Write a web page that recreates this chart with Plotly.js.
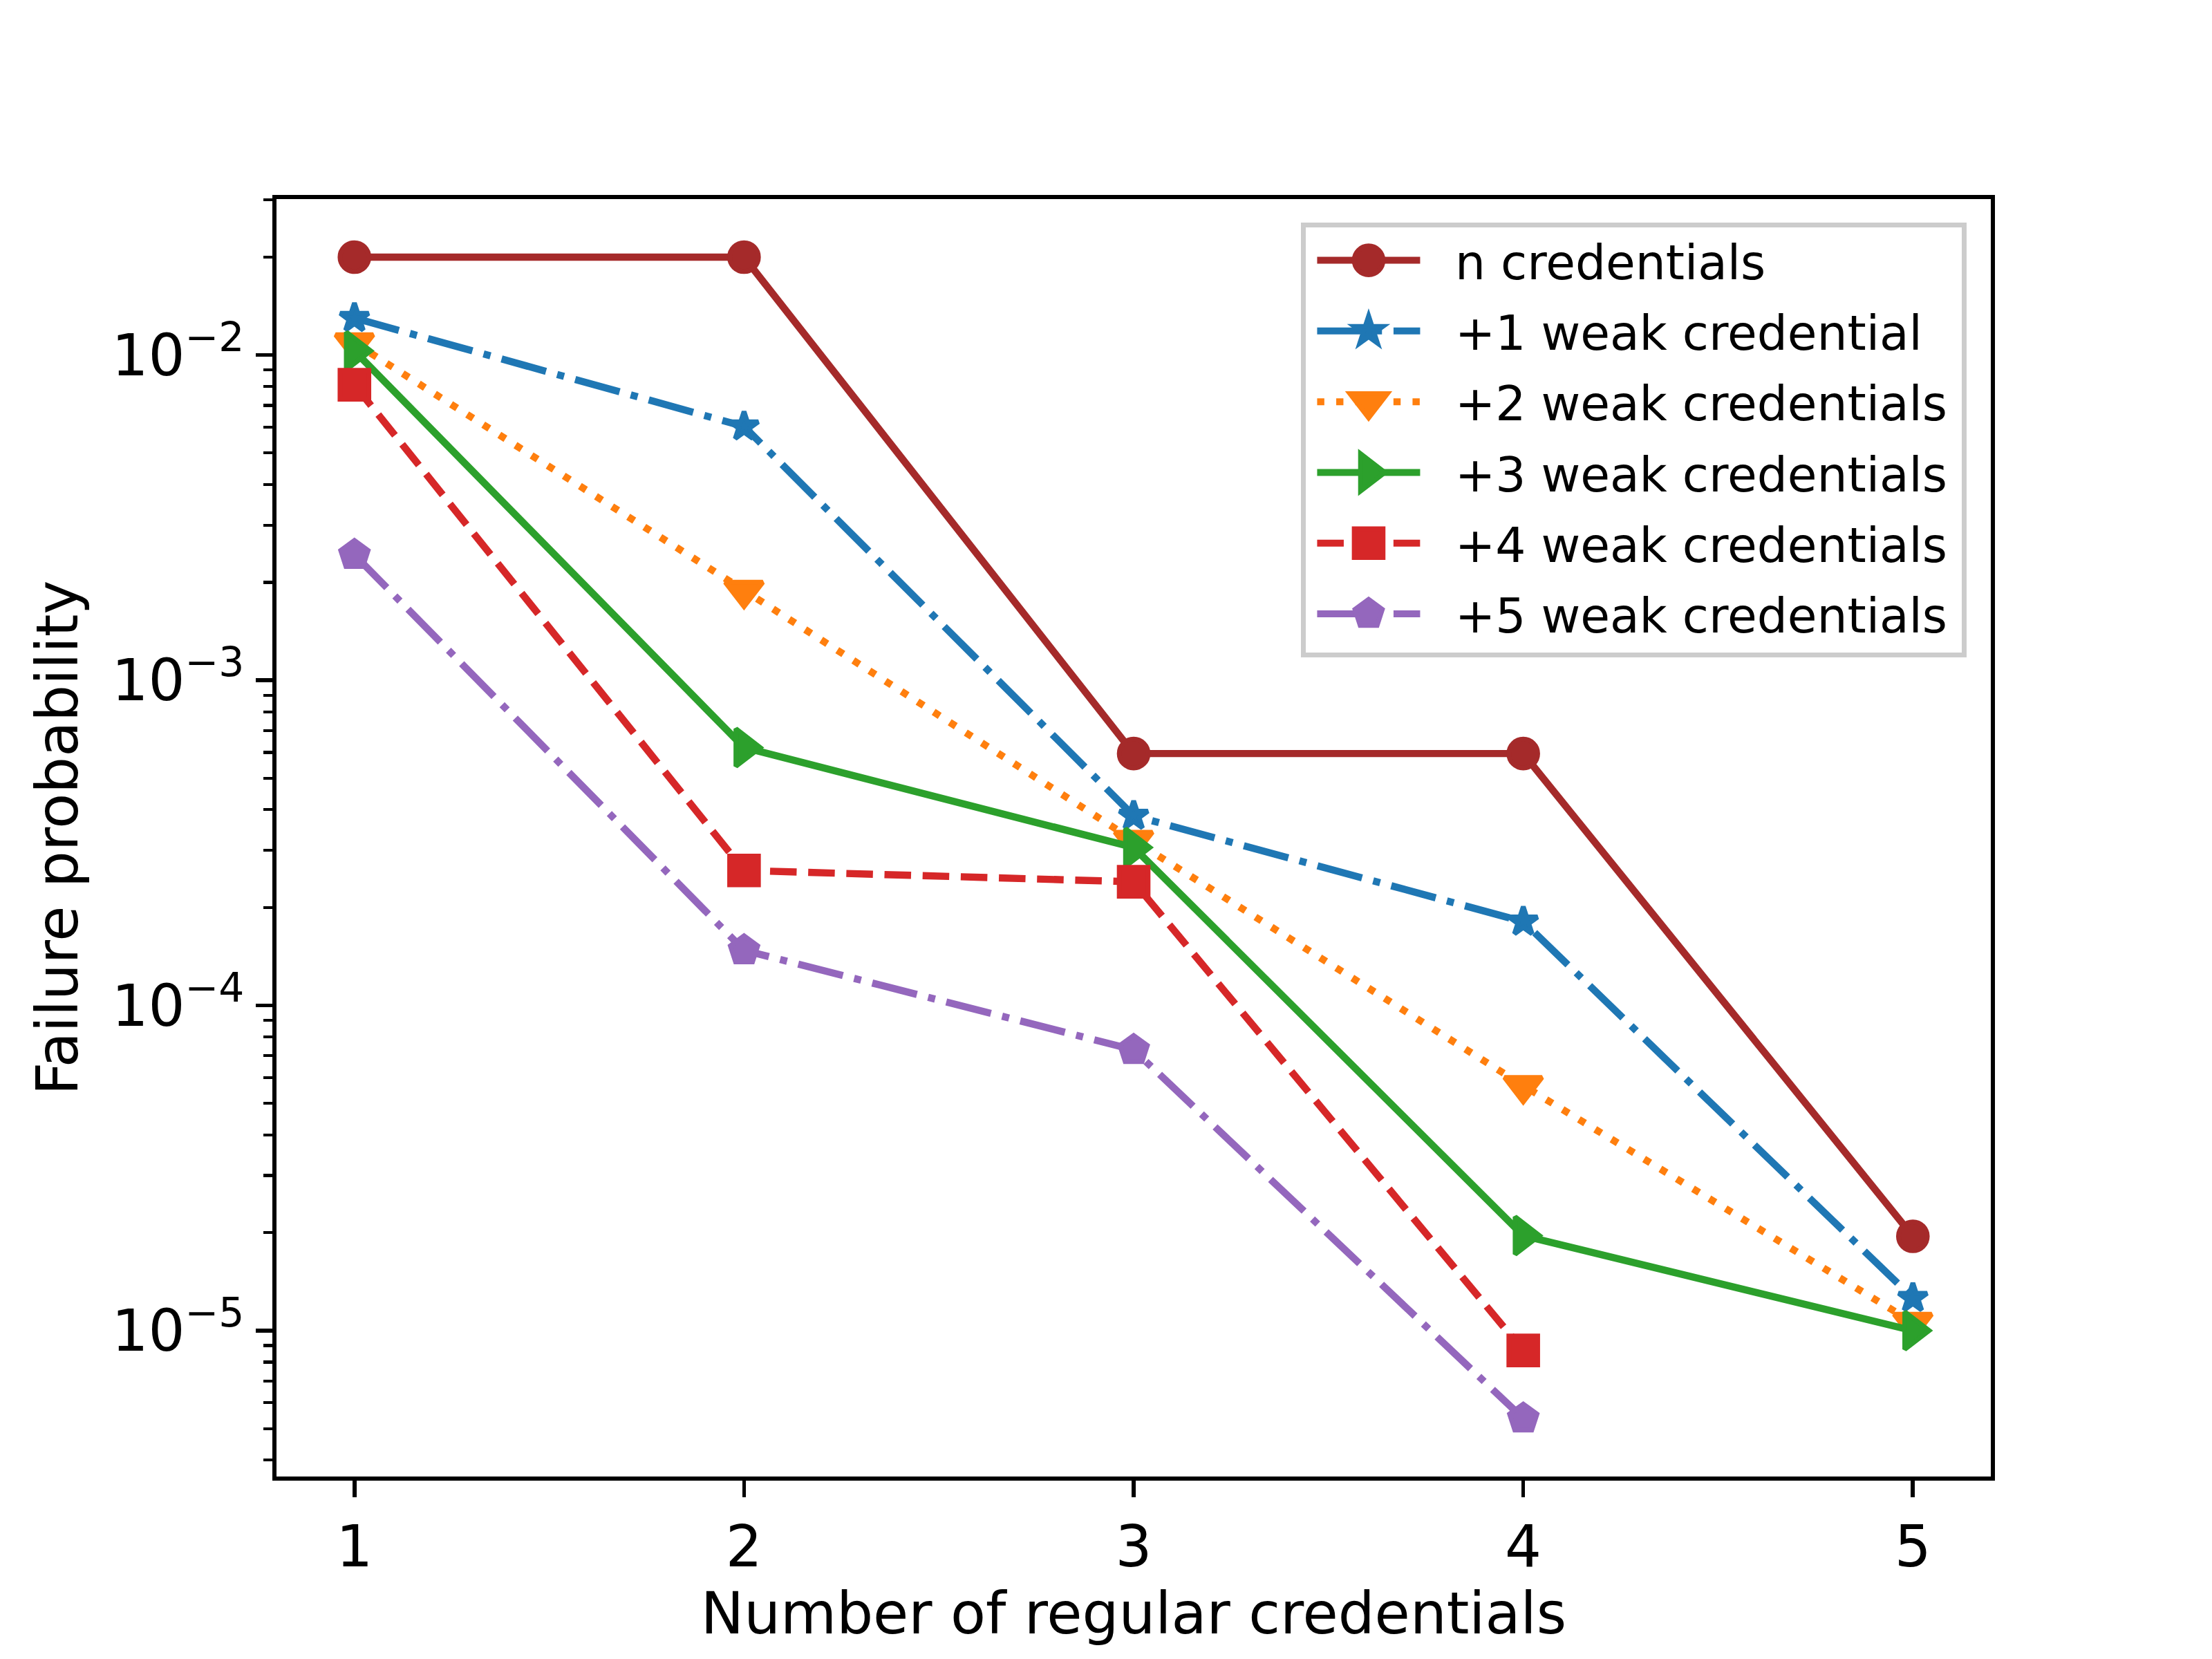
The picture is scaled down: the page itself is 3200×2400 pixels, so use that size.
<!DOCTYPE html>
<html>
<head>
<meta charset="utf-8">
<script src="https://cdn.plot.ly/plotly-3.0.1.min.js"></script>
<style>html,body{margin:0;padding:0;background:#fff;}#chart{width:3200px;height:2400px;}</style>
</head>
<body>
<div id="chart"></div>
<script>
// ---- data ----
var credentials = [1, 2, 3, 4, 5];
var nCredentials = [0.0200, 0.0200, 5.95e-4, 5.95e-4, 1.95e-5];
var weak1 = [0.0130, 6.03e-3, 3.83e-4, 1.81e-4, 1.26e-5];
var weak2 = [0.0109, 1.89e-3, 3.22e-4, 5.67e-5, 1.06e-5];
var weak3 = [0.0103, 6.21e-4, 3.06e-4, 1.96e-5, 1.00e-5];
var weak4 = [0.0081, 2.60e-4, 2.40e-4, 8.69e-6];
var weak5 = [2.43e-3, 1.478e-4, 7.30e-5, 5.37e-6];
var seriesNames = ['n credentials', '+1 weak credential', '+2 weak credentials',
                   '+3 weak credentials', '+4 weak credentials', '+5 weak credentials'];
var xTickVals = [1, 2, 3, 4, 5];
var yTickVals = [1e-5, 1e-4, 1e-3, 1e-2];
var yTickText = ['10<sup>\u22125</sup>', '10<sup>\u22124</sup>', '10<sup>\u22123</sup>', '10<sup>\u22122</sup>'];

// ---- styling ----
var PT = 500 / 72;               // px per point at 500 dpi
var FONT = 'DejaVu Sans, sans-serif';
var FS = 12 * PT;                // ticks and axis titles
var LFS = 10 * PT;               // legend
var LW = 1.5 * PT;
var MEW = 1.0 * PT;
function dashPx(arr) { return arr.map(function (v) { return (v * LW).toFixed(1) + 'px'; }).join(','); }
var DASHDOT = dashPx([6.4, 1.6, 1.0, 1.6]);
var DASHED = dashPx([3.7, 1.6]);
var DOTTED = dashPx([1.0, 1.65]);

var allSeries = [nCredentials, weak1, weak2, weak3, weak4, weak5];
var colors = ['#a52a2a', '#1f77b4', '#ff7f0e', '#2ca02c', '#d62728', '#9467bd'];
var dashes = ['solid', DASHDOT, DOTTED, 'solid', DASHED, DASHDOT];
var symbols = ['circle', 'star', 'triangle-down', 'triangle-right', 'square', 'pentagon'];
var msz = 6 * PT;
var sizes = [msz, 31, 47, 47, msz, msz];

var traces = allSeries.map(function (vals, i) {
  return {
    type: 'scatter', mode: 'lines+markers',
    name: seriesNames[i],
    legendgroup: 'g' + i,
    x: credentials.slice(0, vals.length), y: vals,
    line: {color: colors[i], width: LW, dash: dashes[i]},
    marker: {symbol: symbols[i], size: sizes[i], color: colors[i],
             line: {color: colors[i], width: MEW}},
    cliponaxis: false
  };
});

// axis range like matplotlib (5% margins in log space)
var logs = [];
allSeries.forEach(function (s) { s.forEach(function (v) { logs.push(Math.log10(v)); }); });
var lmin = Math.min.apply(null, logs), lmax = Math.max.apply(null, logs);
var span = lmax - lmin;
var yRange = [lmin - 0.05 * span, lmax + 0.05 * span];
var xRange = [1 - 0.05 * 4, 5 + 0.05 * 4];

var minorVals = [];
for (var e = -7; e <= 0; e++) { for (var k = 2; k <= 9; k++) { minorVals.push(k * Math.pow(10, e)); } }

var axisCommon = {
  showline: true, linecolor: 'black', linewidth: 0.8 * PT, mirror: true,
  ticks: 'outside', ticklen: 3.5 * PT, tickwidth: 0.8 * PT, tickcolor: 'black',
  showgrid: false, zeroline: false,
  tickfont: {family: FONT, size: FS, color: 'black'}
};

var layout = {
  width: 3200, height: 2400,
  margin: {l: 400, r: 320, t: 288, b: 264, pad: 0},
  paper_bgcolor: 'white', plot_bgcolor: 'white',
  font: {family: FONT, size: FS, color: 'black'},
  showlegend: true,
  legend: {
    x: (2845 - 400) / 2480, y: 1 - (322 - 288) / 1848, xanchor: 'right', yanchor: 'top',
    bgcolor: 'white', bordercolor: '#cccccc', borderwidth: 1.0 * PT,
    font: {family: FONT, size: LFS, color: 'black'},
    itemwidth: 206, tracegroupgap: 9, itemsizing: 'trace'
  },
  xaxis: Object.assign({}, axisCommon, {
    range: xRange, tickmode: 'array', tickvals: xTickVals,
    title: {text: 'Number of regular credentials', font: {family: FONT, size: FS, color: 'black'}, standoff: 20}
  }),
  yaxis: Object.assign({}, axisCommon, {
    type: 'log', range: yRange, tickmode: 'array', tickvals: yTickVals, ticktext: yTickText,
    minor: {tickmode: 'array', tickvals: minorVals, ticks: 'outside', ticklen: 2 * PT, tickwidth: 0.6 * PT, tickcolor: 'black', showgrid: false},
    title: {text: 'Failure probability', font: {family: FONT, size: FS, color: 'black'}, standoff: 23}
  })
};

// legend handles like matplotlib: longer line sample, full-size markers, padding on the right
var LEG_SHIFT = 11.5, LEG_LEN = 149, LEG_RIGHT_PAD = 16, LEG_UP = 4;
function parseTranslate(el) {
  var tr = /translate\(\s*([\-\d.e]+)[ ,]*([\-\d.e]*)\s*\)/.exec(el.getAttribute('transform') || '');
  return tr ? [parseFloat(tr[1]), parseFloat(tr[2] || '0')] : [0, 0];
}
function fixLegend(gd) {
  var items = gd.querySelectorAll('.legend .traces');
  items.forEach(function (item, i) {
    var p = item.querySelector('.legendlines path');
    var start = 5;
    if (p) {
      var m = /M\s*([\-\d.]+)/.exec(p.getAttribute('d') || '');
      if (m) start = parseFloat(m[1]);
      start += LEG_SHIFT;
      p.setAttribute('d', 'M' + start + ',0h' + LEG_LEN);
    } else { start += LEG_SHIFT; }
    var cx = start + LEG_LEN / 2;
    var kscale = sizes[i] / 16;
    item.querySelectorAll('.legendpoints path').forEach(function (pt) {
      pt.setAttribute('transform', 'translate(' + cx + ',0) scale(' + kscale + ')');
      pt.style.strokeWidth = (MEW / kscale) + 'px';
    });
  });
  var leg = gd.querySelector('g.legend');
  var bg = gd.querySelector('g.legend rect.bg');
  if (leg && bg) {
    var t = parseTranslate(leg);
    leg.setAttribute('transform', 'translate(' + (t[0] - LEG_RIGHT_PAD) + ',' + t[1] + ')');
    bg.setAttribute('width', parseFloat(bg.getAttribute('width')) + LEG_RIGHT_PAD);
  }
  var sb = gd.querySelector('g.legend g.scrollbox');
  if (sb) {
    var s = parseTranslate(sb);
    sb.setAttribute('transform', 'translate(' + s[0] + ',' + (s[1] - LEG_UP) + ')');
  }
}

Plotly.newPlot('chart', traces, layout, {staticPlot: true, displayModeBar: false}).then(fixLegend);
</script>
</body>
</html>
